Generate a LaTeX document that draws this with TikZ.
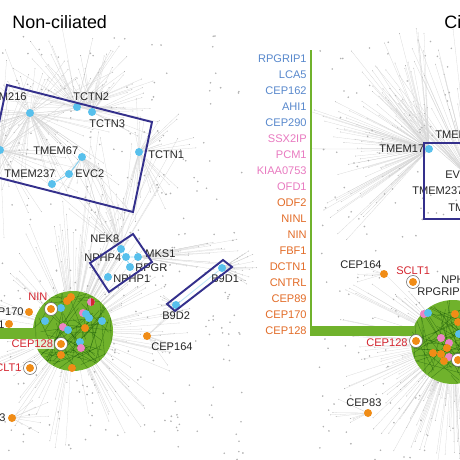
\documentclass[tikz,border=0pt]{standalone}
\usepackage{fontspec}
\setmainfont{Liberation Sans}
\usetikzlibrary{calc,backgrounds}

\definecolor{cilblue}{RGB}{88,192,236}
\definecolor{cilorange}{RGB}{240,140,22}
\definecolor{cilpink}{RGB}{236,132,196}
\definecolor{cilgreen}{RGB}{112,178,44}
\definecolor{cilbox}{RGB}{52,48,140}
\definecolor{cilred}{RGB}{212,38,48}
\definecolor{lgblue}{RGB}{88,136,204}
\definecolor{lgpink}{RGB}{232,122,192}
\definecolor{lgorange}{RGB}{226,108,40}

\pgfdeclarelayer{hair}
\pgfdeclarelayer{patch}
\pgfsetlayers{hair,patch,main}

% fan of interaction lines out of one hub: hub, count, direction, spread, reach
\newcommand*\hairfan[5]{%
  \foreach \i in {1,...,#2}{%
    \pgfmathsetmacro\hang{#3+#4*rand}%
    \pgfmathsetmacro\hlen{#5*(0.25+0.75*rnd)}%
    \draw[hair] (#1.center) -- ++(\hang:\hlen) node[tipdot]{};
  }}

\begin{document}
\begin{tikzpicture}[
	x=0.02cm, y=-0.02cm,
	hair/.style ={gray!32, line width=0.15pt},
	tipdot/.style ={circle, fill=gray!70, inner sep=0pt, minimum size=0.5pt},
	chord/.style ={green!25!black, opacity=0.45, line width=0.2pt},
	link/.style ={cilblue!70, line width=0.5pt},
	dotb/.style ={circle, fill=cilblue, inner sep=0pt, minimum size=1.6mm},
	doto/.style ={dotb, fill=cilorange},
	dotp/.style ={dotb, fill=cilpink},
	ringo/.style ={circle, inner sep=0pt, minimum size=2.6mm, fill=white, draw=black!60, line width=0.3pt,
		path picture={\fill[cilorange] (path picture bounding box.center) circle (0.8mm);}},
	greenhub/.style ={circle, fill=cilgreen, inner sep=0pt},
	lbl/.style ={font=\fontsize{6.3}{7}\selectfont, inner sep=0pt, text=black!85},
	lblred/.style ={lbl, text=cilred},
	legend/.style ={lbl, anchor=east},
	paneltitle/.style ={font=\fontsize{10.2}{12}\selectfont, inner sep=0pt, anchor=base west},
	grpbox/.style ={draw=cilbox, line width=1.1pt}]

	\useasboundingbox (0,0) rectangle (460,460);

	%% green patches: the two centrosome clusters and the legend bracket
	\begin{pgfonlayer}{patch}
		\fill[cilgreen] (-5,328) rectangle (50,339);
		\node[greenhub, minimum size=1.6cm] (hubL) at (73,331) {};
		\fill[cilgreen] (309.5,50) rectangle (312,336);
		\fill[cilgreen] (309.5,326) rectangle (430,336);
		\node[greenhub, minimum size=1.68cm] (hubR) at (453,342) {};
		\pgfmathsetseed{5}
		\begin{scope}
			\clip (hubL.center) circle (0.8cm);
			\foreach \i in {1,...,70}
				\draw[chord] ($(hubL.center)+({40*rand},{40*rand})$) -- ($(hubL.center)+({40*rand},{40*rand})$);
		\end{scope}
		\begin{scope}
			\clip (hubR.center) circle (0.84cm);
			\foreach \i in {1,...,70}
				\draw[chord] ($(hubR.center)+({42*rand},{42*rand})$) -- ($(hubR.center)+({42*rand},{42*rand})$);
		\end{scope}
	\end{pgfonlayer}

	%% titles
	\node[paneltitle] (titleL) at (12,28) {Non-ciliated};
	\node[paneltitle] (titleR) at (444,28) {Ciliated};

	%% left panel, transition zone group
	\node[dotb] (tmem216) at (30,113) {};
	\node[dotb] (tctn2) at (77,107) {};
	\node[dotb] (tctn3) at (92,112) {};
	\node[dotb] (tmemL) at (0,150) {};
	\node[dotb] (tctn1) at (139,152) {};
	\node[dotb] (tmem67) at (82,157) {};
	\node[dotb] (evc2) at (69,174) {};
	\node[dotb] (tmem237) at (52,184) {};
	\draw[link] (tmem67) -- (evc2) -- (tmem237);

	\node[lbl, anchor=east] at (27,97) {TMEM216};
	\node[lbl, anchor=west] at (73,97) {TCTN2};
	\node[lbl, anchor=west] at (89,124) {TCTN3};
	\node[lbl, anchor=west] at (148,155) {TCTN1};
	\node[lbl, anchor=west] at (33,151) {TMEM67};
	\node[lbl, anchor=west] at (75,174) {EVC2};
	\node[lbl, anchor=west] at (4,174) {TMEM237};

	\draw[grpbox] (7,85) -- (152,122) -- (133,212) -- (-12,175) -- cycle;

	%% NPHP / MKS group
	\node[dotb] (nek8) at (121,249) {};
	\node[dotb] (nphp4) at (126,257) {};
	\node[dotb] (mks1) at (138,257) {};
	\node[dotb] (rpgr) at (130,267) {};
	\node[dotb] (nphp1) at (108,277) {};
	\draw[link] (nek8) -- (nphp4) -- (mks1) (nphp4) -- (rpgr);

	\node[lbl, anchor=west] at (90,239) {NEK8};
	\node[lbl, anchor=west] at (84,258) {NPHP4};
	\node[lbl, anchor=west] at (145,254) {MKS1};
	\node[lbl, anchor=west] at (135,268) {RPGR};
	\node[lbl, anchor=west] at (113,279) {NPHP1};
	\draw[grpbox] (90,263) -- (133,234) -- (152,262) -- (109,292) -- cycle;

	%% B9D group
	\node[dotb] (b9d1) at (222,268) {};
	\node[dotb] (b9d2) at (176,305) {};
	\draw[link, cilblue!40] (b9d1) -- (b9d2);
	\node[lbl, anchor=west] at (211,279) {B9D1};
	\node[lbl, anchor=west] at (162,316) {B9D2};
	\draw[grpbox] (223,260) -- (232,267) -- (175,311) -- (167,304) -- cycle;

	%% left cluster
	\node[doto] (c1) at (67,301) {};
	\node[doto] (c2) at (71,297) {};
	\node[dotb] (c3) at (61,308) {};
	\node[dotp, path picture={\fill[cilred] (path picture bounding box.north) rectangle (path picture bounding box.south east);}] (c4) at (91,302) {};
	\node[dotp] (c5) at (83,313) {};
	\node[dotb] (c6) at (86,314) {};
	\node[dotb] (c7) at (89,318) {};
	\node[dotb] (c8) at (45,321) {};
	\node[dotb] (c9) at (102,321) {};
	\node[dotp] (c10) at (63,327) {};
	\node[dotb] (c11) at (68,330) {};
	\node[doto] (c12) at (85,328) {};
	\node[dotb] (c13) at (80,342) {};
	\node[dotp] (c14) at (81,348) {};
	\node[doto] (c15) at (61,355) {};
	\node[doto] (c16) at (72,368) {};
	\node[ringo] (ninL) at (51,309) {};
	\node[ringo] (cep128L) at (61,344) {};
	\node[doto] (cep170L) at (29,312) {};
	\node[doto] (dctn1L) at (9,324) {};
	\node[ringo] (sclt1L) at (30,368) {};
	\node[doto] (cep83L) at (12,418) {};
	\node[doto] (cep164L) at (147,336) {};

	\node[lblred, anchor=west] at (28,297) {NIN};
	\node[lbl, anchor=east] at (24,312) {CEP170};
	\node[lbl, anchor=east] at (5,325) {DCTN1};
	\node[lblred, anchor=east, fill=white, fill opacity=0.8, text opacity=1, outer sep=0pt, inner sep=0.6pt] at (54,344) {CEP128};
	\node[lblred, anchor=east] at (22,368) {SCLT1};
	\node[lbl, anchor=east] at (6,418) {CEP83};
	\node[lbl, anchor=west] at (151,347) {CEP164};

	%% legend of the centriolar proteins
	\foreach \g [count=\k from 0] in {RPGRIP1,LCA5,CEP162,AHI1,CEP290,SSX2IP,PCM1,KIAA0753,OFD1,
		ODF2,NINL,NIN,FBF1,DCTN1,CNTRL,CEP89,CEP170,CEP128}{
		\ifnum\k<5 \def\lc{lgblue}\else\ifnum\k<9 \def\lc{lgpink}\else\def\lc{lgorange}\fi\fi
		\node[legend, text=\lc] (leg\k) at (307,{58.7+16*\k}) {\g};
	}

	%% right panel
	\node[dotb] (tmem17) at (429,149) {};
	\coordinate (evcR) at (470,178);
	\node[lbl, anchor=west] at (379,149) {TMEM17};
	\node[lbl, anchor=west] at (435,135) {TMEM216};
	\node[lbl, anchor=west] at (445,175) {EVC2};
	\node[lbl, anchor=west] at (412,191) {TMEM237};
	\node[lbl, anchor=west] at (448,208) {TMEM67};
	\draw[grpbox] (480,143) -- (424,143) -- (424,219) -- (480,219);

	\node[doto] (cep164R) at (384,274) {};
	\node[ringo] (sclt1R) at (413,282) {};
	\node[doto] (cep83R) at (368,413) {};
	\node[lbl, anchor=west] at (340,265) {CEP164};
	\node[lblred, anchor=west] at (396,271) {SCLT1};
	\node[lbl, anchor=west] at (441,280) {NPHP1};
	\node[lbl, anchor=west] at (417,292) {RPGRIP1L};
	\node[lblred, anchor=west] at (366,343) {CEP128};
	\node[lbl, anchor=west] at (346,403) {CEP83};

	\node[dotp] (r1) at (424,314) {};
	\node[dotb] (r2) at (428,313) {};
	\node[doto] (r3) at (455,314) {};
	\node[doto] (r4) at (458,322) {};
	\node[dotb] (r5) at (459,334) {};
	\node[dotp] (r6) at (441,338) {};
	\node[dotp] (r7) at (449,343) {};
	\node[doto] (r8) at (447,348) {};
	\node[doto] (r9) at (433,353) {};
	\node[doto] (r10) at (441,354) {};
	\node[dotp] (r11) at (449,357) {};
	\node[doto] (r12) at (444,361) {};
	\node[ringo] (r13) at (458,360) {};
	\node[ringo] (cep128R) at (416,341) {};

	%% interaction hairball
	\begin{pgfonlayer}{hair}
		\pgfmathsetseed{11}
		\hairfan{tmem216}{70}{0}{180}{95}
		\hairfan{tctn2}{55}{270}{110}{85}
		\hairfan{tctn3}{30}{300}{90}{70}
		\hairfan{tmemL}{35}{0}{90}{90}
		\hairfan{tctn1}{35}{0}{110}{70}
		\hairfan{tmem67}{20}{90}{60}{80}
		\hairfan{hubL}{150}{90}{180}{120}
		\hairfan{hubL}{30}{280}{25}{220}
		\hairfan{mks1}{25}{0}{15}{110}
		\hairfan{nek8}{20}{250}{40}{120}
		\hairfan{b9d1}{25}{0}{35}{35}
		\hairfan{b9d2}{10}{180}{40}{30}
		\hairfan{cep164L}{12}{0}{60}{50}
		\hairfan{cep83L}{8}{0}{60}{40}
		\hairfan{tmem17}{110}{200}{70}{125}
		\hairfan{evcR}{50}{250}{30}{150}
		\hairfan{hubR}{100}{150}{80}{120}
		\hairfan{hubR}{40}{100}{30}{130}
		\hairfan{cep83R}{8}{180}{30}{40}
		\hairfan{cep164R}{6}{180}{30}{30}
		\foreach \i in {1,...,240}
			\fill[gray!60] ({245*rnd},{35+425*rnd}) circle (0.18mm);
		\foreach \i in {1,...,120}
			\fill[gray!60] ({318+142*rnd},{40+420*rnd}) circle (0.18mm);
	\end{pgfonlayer}

\end{tikzpicture}
\end{document}
